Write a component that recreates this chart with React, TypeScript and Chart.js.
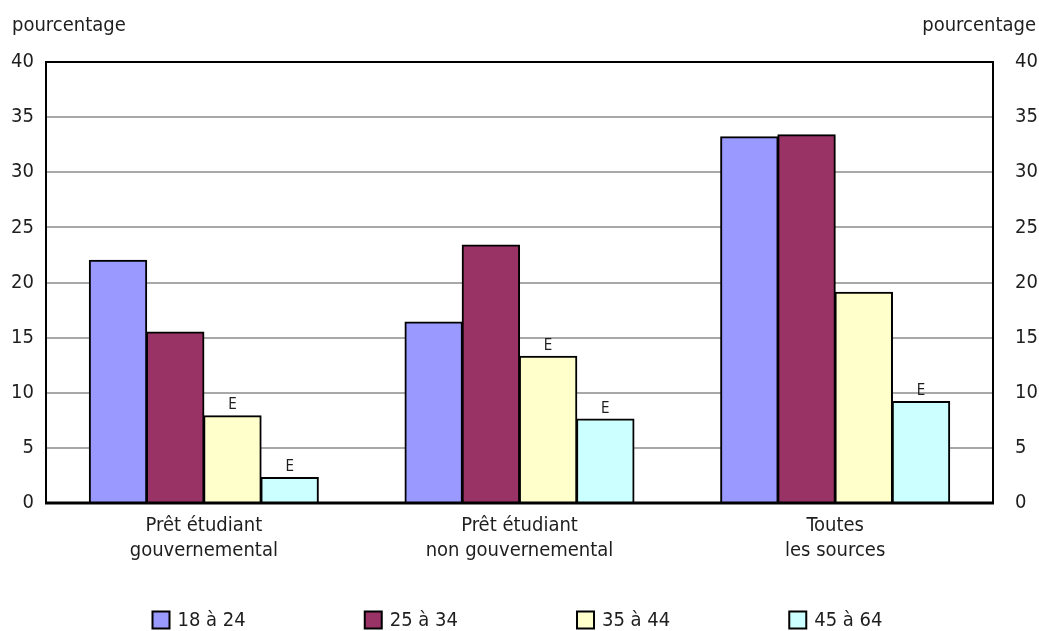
import React, { useEffect, useRef } from "react";
import { Chart, registerables } from "chart.js";

Chart.register(...registerables);

const categories: string[][] = [
  ["Prêt étudiant", "gouvernemental"],
  ["Prêt étudiant", "non gouvernemental"],
  ["Toutes", "les sources"],
];
const seriesNames = ["18 à 24", "25 à 34", "35 à 44", "45 à 64"];
const age18to24 = [22.0, 16.4, 33.2];
const age25to34 = [15.5, 23.4, 33.4];
const age35to44 = [7.9, 13.3, 19.1];
const age45to64 = [2.3, 7.6, 9.2];
const flag18to24 = ["", "", ""];
const flag25to34 = ["", "", ""];
const flag35to44 = ["E", "E", ""];
const flag45to64 = ["E", "E", "E"];
const yMin = 0;
const yMax = 40;
const yStep = 5;
const axisTitle = "pourcentage";

const seriesColors = ["#9999FF", "#993366", "#FFFFCC", "#CCFFFF"];
const FONT = '"Liberation Sans Narrow", "DejaVu Sans Condensed", "Roboto Condensed", sans-serif';
const TEXT = "#1e1e1e";

export default function App() {
  const ref = useRef<HTMLCanvasElement | null>(null);

  useEffect(() => {
    document.body.style.margin = "0";
    const canvas = ref.current;
    if (!canvas) return;
    const values = [age18to24, age25to34, age35to44, age45to64];
    const flags = [flag18to24, flag25to34, flag35to44, flag45to64];

    const decor = {
      id: "decor",
      afterDatasetsDraw(chart: any) {
        const ctx = chart.ctx;
        const a = chart.chartArea;
        ctx.save();
        // E flags
        ctx.font = `15px ${FONT}`;
        ctx.fillStyle = TEXT;
        ctx.textAlign = "center";
        ctx.textBaseline = "bottom";
        chart.data.datasets.forEach((ds: any, i: number) => {
          const meta = chart.getDatasetMeta(i);
          meta.data.forEach((el: any, j: number) => {
            const f = flags[i][j];
            if (f) ctx.fillText(f, el.x, el.y - 3);
          });
        });
        // frame
        ctx.strokeStyle = "#000";
        ctx.lineWidth = 2;
        ctx.beginPath();
        ctx.moveTo(a.left, a.bottom);
        ctx.lineTo(a.left, a.top);
        ctx.lineTo(a.right, a.top);
        ctx.lineTo(a.right, a.bottom);
        ctx.stroke();
        ctx.lineWidth = 3;
        ctx.beginPath();
        ctx.moveTo(a.left - 1, a.bottom);
        ctx.lineTo(a.right + 1, a.bottom);
        ctx.stroke();
        // titles
        ctx.font = `20px ${FONT}`;
        ctx.textBaseline = "alphabetic";
        ctx.textAlign = "left";
        ctx.fillText(axisTitle, 12, 31);
        ctx.textAlign = "right";
        ctx.fillText(axisTitle, chart.width - 3, 31);
        // legend
        ctx.font = `20px ${FONT}`;
        const box = 17;
        const gapText = 8;
        const widths = chart.data.datasets.map((ds: any) => box + gapText + ctx.measureText(ds.label).width);
        const span = 730;
        const total = widths.reduce((s: number, w: number) => s + w, 0);
        const gap = (span - total) / (widths.length - 1);
        let x = chart.width / 2 - span / 2 - 2;
        const cy = 620;
        ctx.textAlign = "left";
        ctx.textBaseline = "middle";
        chart.data.datasets.forEach((ds: any, i: number) => {
          ctx.fillStyle = ds.backgroundColor;
          ctx.fillRect(x, cy - box / 2, box, box);
          ctx.strokeStyle = "#000";
          ctx.lineWidth = 2;
          ctx.strokeRect(x, cy - box / 2, box, box);
          ctx.fillStyle = TEXT;
          ctx.fillText(ds.label, x + box + gapText, cy + 1);
          x += widths[i] + gap;
        });
        ctx.restore();
      },
    };

    const chart = new Chart(canvas, {
      type: "bar",
      data: {
        labels: categories,
        datasets: values.map((v, i) => ({
          label: seriesNames[i],
          data: v,
          backgroundColor: seriesColors[i],
          borderColor: "#000000",
          borderWidth: 2,
          inflateAmount: 0.6,
          categoryPercentage: 0.725,
          barPercentage: 1.0,
        })),
      },
      options: {
        responsive: false,
        animation: false,
        layout: { padding: { top: 62, bottom: 60, left: 0, right: 0 } },
        plugins: {
          legend: { display: false },
          tooltip: { enabled: false },
          title: { display: false },
        },
        scales: {
          x: {
            grid: { display: false },
            border: { display: false },
            ticks: {
              color: TEXT,
              font: { family: FONT, size: 20, lineHeight: 1.25 },
              padding: 2,
              maxRotation: 0,
              autoSkip: false,
            },
            afterFit(scale: any) {
              scale.height = 68;
            },
          },
          y: {
            position: "left",
            min: yMin,
            max: yMax,
            ticks: {
              stepSize: yStep,
              color: TEXT,
              font: { family: FONT, size: 20 },
              padding: 12,
            },
            grid: { color: "#a8a8a8", lineWidth: 2, drawTicks: false },
            border: { display: false },
            afterFit(scale: any) {
              scale.width = 46;
            },
          },
          y2: {
            position: "right",
            min: yMin,
            max: yMax,
            ticks: {
              stepSize: yStep,
              color: TEXT,
              font: { family: FONT, size: 20 },
              padding: 22,
            },
            grid: { display: false, drawTicks: false },
            border: { display: false },
            afterFit(scale: any) {
              scale.width = 46;
            },
          },
        },
      },
      plugins: [decor],
    });
    return () => chart.destroy();
  }, []);

  return (
    <div style={{ width: 1039, height: 631 }}>
      <canvas ref={ref} width={1039} height={631} style={{ display: "block" }} />
    </div>
  );
}
